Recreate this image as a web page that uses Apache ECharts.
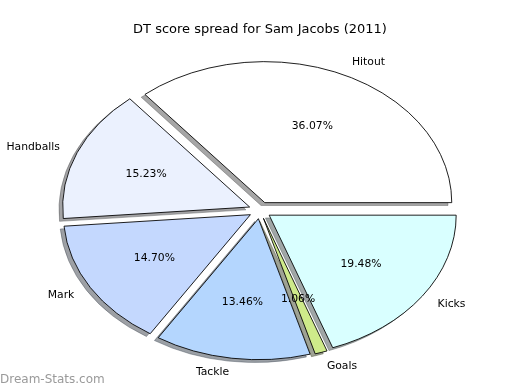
<!DOCTYPE html>
<html>
<head>
<meta charset="utf-8">
<script src="https://cdn.jsdelivr.net/npm/echarts@6/dist/echarts.min.js"></script>
<style>
html,body{margin:0;padding:0;background:#fff;}
#chart{width:520px;height:390px;}
</style>
</head>
<body>
<div id="chart"></div>
<script>
// ---- data ----
var categories = ['Hitout', 'Handballs', 'Mark', 'Tackle', 'Goals', 'Kicks'];
var shares = [36.07, 15.23, 14.70, 13.46, 1.06, 19.48];
var titleText = 'DT score spread for Sam Jacobs (2011)';
var watermark = 'Dream-Stats.com';

// ---- style / layout ----
var palette = ['#ffffff', '#ebf1fe', '#c4d8fe', '#b4d6fe', '#ceea8a', '#d9ffff'];
var CX = 260, CY = 210.3, RX = 187, RY = 141;
var EXPLODE = 0.06, LABEL_DIST = 1.1, PCT_DIST = 0.6, SHADOW = 0.02;
var FONT = 'DejaVu Sans';

var total = shares.reduce(function (a, b) { return a + b; }, 0);

function shadowColor(hex) {
  var n = parseInt(hex.slice(1), 16);
  var r = Math.round(((n >> 16) & 255) * 0.3), g = Math.round(((n >> 8) & 255) * 0.3), b = Math.round((n & 255) * 0.3);
  return 'rgba(' + r + ',' + g + ',' + b + ',0.5)';
}

function renderItem(params, api) {
  var i = params.dataIndex;
  var before = 0;
  for (var k = 0; k < i; k++) before += shares[k];
  var v = api.value(0);
  var t1 = before / total * 2 * Math.PI;
  var t2 = (before + v) / total * 2 * Math.PI;
  var tm = (t1 + t2) / 2;
  var c = Math.cos(tm), s = Math.sin(tm);
  var ex = CX + EXPLODE * RX * c;
  var ey = CY - EXPLODE * RY * s;
  var sy = RY / RX;
  var shape = { cx: 0, cy: 0, r: RX, r0: 0, startAngle: -t2, endAngle: -t1, clockwise: true };
  var lx = ex + LABEL_DIST * RX * c;
  var ly = ey - LABEL_DIST * RY * s;
  var px = ex + PCT_DIST * RX * c;
  var py = ey - PCT_DIST * RY * s;
  return {
    type: 'group',
    children: [
      {
        type: 'sector', x: ex - SHADOW * RX, y: ey + SHADOW * RY, scaleX: 1, scaleY: sy,
        shape: shape, z2: 1, silent: true,
        style: { fill: shadowColor(palette[i]), stroke: shadowColor(palette[i]), lineWidth: 0.9, strokeNoScale: true }
      },
      {
        type: 'sector', x: ex, y: ey, scaleX: 1, scaleY: sy,
        shape: shape, z2: 10,
        style: { fill: palette[i], stroke: '#000', lineWidth: 1, strokeNoScale: true }
      },
      {
        type: 'text', x: lx, y: ly, z2: 20,
        style: { text: categories[i], fill: '#000', fontSize: 10.8, fontFamily: FONT,
                 align: c >= 0 ? 'left' : 'right', verticalAlign: 'middle' }
      },
      {
        type: 'text', x: px, y: py, z2: 20,
        style: { text: v.toFixed(2) + '%', fill: '#000', fontSize: 10.8, fontFamily: FONT,
                 align: 'center', verticalAlign: 'middle' }
      }
    ]
  };
}

var chart = echarts.init(document.getElementById('chart'), null, { renderer: 'canvas' });
chart.setOption({
  animation: false,
  backgroundColor: '#fff',
  title: {
    text: titleText, left: 'center', top: 18,
    textStyle: { fontFamily: FONT, fontSize: 13, fontWeight: 'normal', color: '#000' }
  },
  graphic: [{
    type: 'text', left: 0, top: 374,
    style: { text: watermark, fill: '#9a9a9a', fontSize: 12, fontFamily: FONT }
  }],
  series: [{
    type: 'custom',
    coordinateSystem: 'none',
    renderItem: renderItem,
    data: shares.map(function (v, i) { return { name: categories[i], value: [v] }; })
  }]
});
</script>
</body>
</html>
